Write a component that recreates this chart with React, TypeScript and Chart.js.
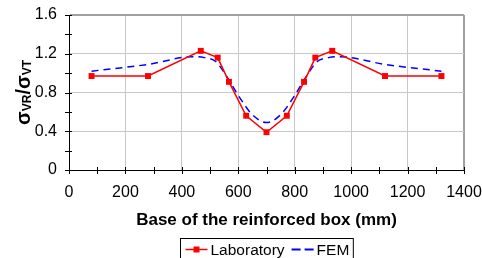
import React, { useEffect, useRef } from "react";
import { Chart, registerables } from "chart.js";

Chart.register(...registerables);

const labX = [80, 280, 467, 527, 567, 628, 700, 772, 833, 873, 933, 1120, 1320];
const labY = [0.97, 0.97, 1.23, 1.16, 0.91, 0.56, 0.39, 0.56, 0.91, 1.16, 1.23, 0.97, 0.97];
const femX = [80, 280, 440, 480, 520, 560, 600, 650, 700, 750, 800, 840, 880, 920, 960, 1120, 1320];
const femY = [1.02, 1.09, 1.17, 1.16, 1.12, 0.96, 0.77, 0.57, 0.49, 0.57, 0.77, 0.96, 1.12, 1.16, 1.17, 1.09, 1.02];
const seriesNames = ["Laboratory", "FEM"];
const xTitle = "Base of the reinforced box (mm)";
const FONT = "'Liberation Sans', Arial, sans-serif";

const crossTicks = {
  id: "crossTicks",
  afterDraw(chart: any) {
    const ctx = chart.ctx;
    const xs = chart.scales.x;
    const ys = chart.scales.y;
    ctx.save();
    ctx.strokeStyle = "#000";
    ctx.lineWidth = 1;
    ctx.beginPath();
    for (let v = 0; v <= 1400; v += 100) {
      const px = Math.round(xs.getPixelForValue(v)) + 0.5;
      ctx.moveTo(px, ys.bottom - 3);
      ctx.lineTo(px, ys.bottom + 4);
    }
    for (let i = 0; i <= 8; i++) {
      const py = Math.round(ys.getPixelForValue(i * 0.2)) + 0.5;
      ctx.moveTo(xs.left - 4, py);
      ctx.lineTo(xs.left + 3, py);
    }
    ctx.stroke();
    ctx.restore();
  },
};

const yTitle = {
  id: "yTitle",
  afterDraw(chart: any) {
    const ctx = chart.ctx;
    const ys = chart.scales.y;
    const big = `bold 20px ${FONT}`;
    const small = `bold 12px ${FONT}`;
    const parts: [string, string, number][] = [
      ["σ", big, 0],
      ["VR", small, 1],
      ["/", big, 0],
      ["σ", big, 0],
      ["VT", small, 1],
    ];
    ctx.save();
    let total = 0;
    for (const [t, f] of parts) {
      ctx.font = f;
      total += ctx.measureText(t).width;
    }
    ctx.translate(30, (ys.top + ys.bottom) / 2);
    ctx.rotate(-Math.PI / 2);
    ctx.fillStyle = "#000";
    ctx.textBaseline = "alphabetic";
    ctx.textAlign = "left";
    let cx = -total / 2;
    for (const [t, f, dy] of parts) {
      ctx.font = f;
      ctx.fillText(t, cx, dy);
      cx += ctx.measureText(t).width;
    }
    ctx.restore();
  },
};

const boxLegend = {
  id: "boxLegend",
  afterDraw(chart: any) {
    const ctx = chart.ctx;
    const ds = chart.data.datasets;
    ctx.save();
    ctx.font = `15.5px ${FONT}`;
    ctx.textBaseline = "middle";
    const w0 = ctx.measureText(ds[0].label).width;
    const w1 = ctx.measureText(ds[1].label).width;
    const s0 = 22, s1 = 22, gap = 3, itemGap = 7, padL = 5, padR = 4;
    const total = padL + s0 + gap + w0 + itemGap + s1 + gap + w1 + padR;
    const cxm = (chart.scales.x.left + chart.scales.x.right) / 2;
    const left = Math.round(cxm - total / 2) + 0.5;
    const top = 238.5;
    const cy = 249.5;
    ctx.strokeStyle = "#000";
    ctx.lineWidth = 1;
    ctx.strokeRect(left, top, total, 24);
    let x = left + padL;
    ctx.strokeStyle = ds[0].borderColor;
    ctx.lineWidth = 1.5;
    ctx.beginPath();
    ctx.moveTo(x, cy);
    ctx.lineTo(x + s0, cy);
    ctx.stroke();
    ctx.fillStyle = ds[0].borderColor;
    ctx.fillRect(x + s0 / 2 - 3, cy - 3, 6, 6);
    x += s0 + gap;
    ctx.fillStyle = "#000";
    ctx.fillText(ds[0].label, x, cy + 1);
    x += w0 + itemGap;
    ctx.strokeStyle = ds[1].borderColor;
    ctx.lineWidth = 2;
    ctx.setLineDash([9, 4]);
    ctx.beginPath();
    ctx.moveTo(x, cy);
    ctx.lineTo(x + s1, cy);
    ctx.stroke();
    ctx.setLineDash([]);
    x += s1 + gap;
    ctx.fillStyle = "#000";
    ctx.fillText(ds[1].label, x, cy + 1);
    ctx.restore();
  },
};

export default function App() {
  const ref = useRef<HTMLCanvasElement | null>(null);
  useEffect(() => {
    document.body.style.margin = "0";
    const canvas = ref.current;
    if (!canvas) return;
    const chart = new Chart(canvas, {
      type: "line",
      data: {
        datasets: [
          {
            label: seriesNames[0],
            data: labX.map((x, i) => ({ x, y: labY[i] })),
            borderColor: "#ff0000",
            backgroundColor: "#ff0000",
            borderWidth: 1.5,
            pointStyle: "rect",
            pointRadius: 4.2,
            pointBorderWidth: 0,
            tension: 0,
          },
          {
            label: seriesNames[1],
            data: femX.map((x, i) => ({ x, y: femY[i] })),
            borderColor: "#0000ff",
            backgroundColor: "#0000ff",
            borderWidth: 1.5,
            borderDash: [7, 5],
            pointRadius: 0,
            cubicInterpolationMode: "monotone",
          },
        ],
      },
      options: {
        responsive: false,
        animation: false,
        layout: { padding: { left: 0, right: 18, top: 15, bottom: 0 } },
        plugins: { legend: { display: false }, tooltip: { enabled: false } },
        scales: {
          x: {
            type: "linear",
            min: 0,
            max: 1400,
            afterFit: (s: any) => {
              s.height = 88;
              s.paddingLeft = 0;
              s.paddingRight = 0;
            },
            ticks: {
              stepSize: 100,
              autoSkip: false,
              maxRotation: 0,
              padding: 13,
              color: "#000",
              font: { family: FONT, size: 16 },
              callback: (v: any) => (Number(v) % 200 === 0 ? String(v) : ""),
            },
            grid: {
              drawTicks: false,
              color: (c: any) => {
                const v = c.tick.value;
                if (v === 0) return "rgba(0,0,0,0)";
                if (v === 1400) return "#a0a0a0";
                return v % 200 === 0 ? "#c8c8c8" : "rgba(0,0,0,0)";
              },
              lineWidth: (c: any) => (c.tick.value === 1400 ? 2 : 1),
            },
            border: { color: "#000", width: 1 },
            title: {
              display: true,
              text: xTitle,
              color: "#000",
              font: { family: FONT, size: 17, weight: "bold" },
              padding: { top: 0, bottom: 27 },
            },
          },
          y: {
            min: 0,
            max: 1.6,
            afterFit: (s: any) => {
              s.width = 69;
              s.paddingTop = 0;
              s.paddingBottom = 0;
            },
            ticks: {
              stepSize: 0.2,
              autoSkip: false,
              padding: 12,
              color: "#000",
              font: { family: FONT, size: 16 },
              callback: (v: any) => {
                const n = Math.round(Number(v) * 10);
                return n % 4 === 0 ? String(n / 10) : "";
              },
            },
            grid: {
              drawTicks: false,
              color: (c: any) => {
                const n = Math.round(c.tick.value * 10);
                if (n === 0) return "rgba(0,0,0,0)";
                if (n === 16) return "#a0a0a0";
                return n % 4 === 0 ? "#c8c8c8" : "rgba(0,0,0,0)";
              },
              lineWidth: (c: any) => (Math.round(c.tick.value * 10) === 16 ? 2 : 1),
            },
            border: { color: "#000", width: 1 },
          },
        },
      },
      plugins: [crossTicks, yTitle, boxLegend],
    });
    return () => chart.destroy();
  }, []);
  return <canvas ref={ref} width={482} height={258} style={{ display: "block" }} />;
}
